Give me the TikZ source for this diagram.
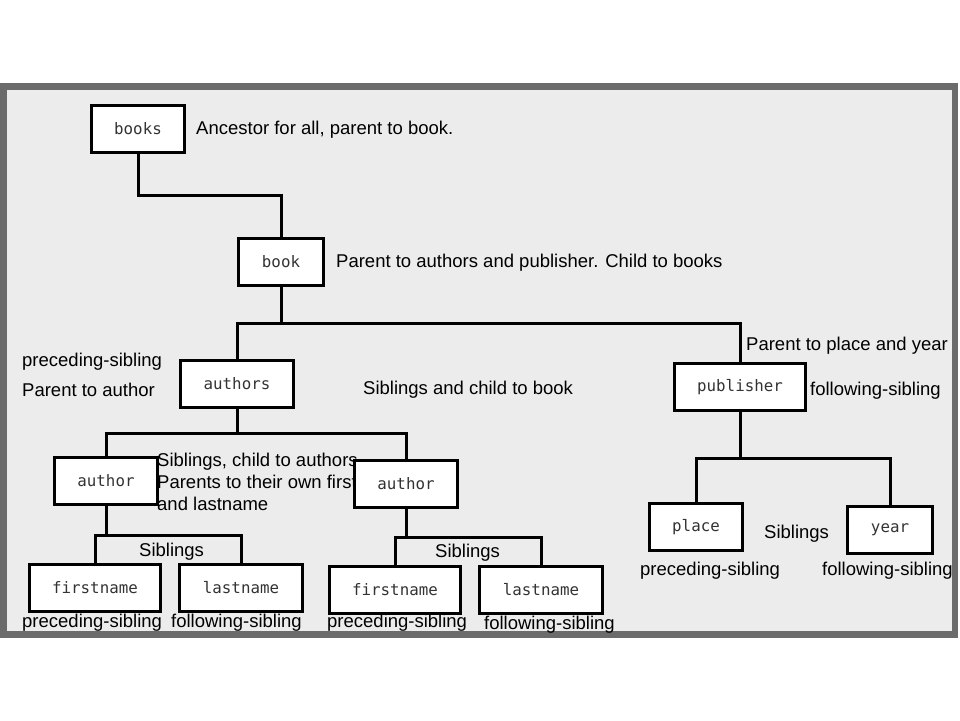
\documentclass[tikz,border=0pt]{standalone}
\usepackage{fontspec}
\setmainfont{Liberation Sans}
\newfontfamily\tagfont{DejaVu Sans Mono}
\usetikzlibrary{positioning}
\definecolor{framegray}{HTML}{6B6B6B}
\definecolor{framefill}{HTML}{ECECEC}
\definecolor{tagtext}{HTML}{333333}
\tikzstyle{tag} = [draw=black, line width=3pt, fill=white, inner xsep=23pt, minimum height=47pt, font=\tagfont\fontsize{15.8}{18}\selectfont, text=tagtext]
\tikzstyle{note} = [anchor=west, inner sep=0pt, align=left, yshift=-2pt, font=\fontsize{18.5}{22}\selectfont]
\tikzstyle{link} = [line width=3pt]

\begin{document}
\begin{tikzpicture}[x=1pt, y=-1pt]
	\useasboundingbox (0,0) rectangle (960,720);
	\draw[line width=6.5pt, draw=framegray, fill=framefill] (3.5,86.5) rectangle (955,634.5);

	\node[note] (n1) at (196,128) {Ancestor for all, parent to book.};
	\node[note] (n2) at (336,261) {Parent to authors and publisher. Child to books};
	\node[note] (n3) at (22,360) {preceding-sibling};
	\node[note] (n4) at (22,388) {Parent to author};
	\node[note] (n5) at (363,388) {Siblings and child to book};
	\node[note] (n6) at (746,344) {Parent to place and year};
	\node[note] (n7) at (810,389) {following-sibling};
	\node[note] (n8) at (157,480) {Siblings, child to authors\\Parents to their own first\\and lastname};
	\node[note] (n9) at (139,550) {Siblings};
	\node[note] (n10) at (435,551) {Siblings};
	\node[note] (n11) at (764,532) {Siblings};
	\node[note] (n12) at (22,621) {preceding-sibling};
	\node[note] (n13) at (171,621) {following-sibling};
	\node[note] (n14) at (327,621) {preceding-sibling};
	\node[note] (n15) at (484,623) {following-sibling};
	\node[note] (n16) at (640,569) {preceding-sibling};
	\node[note] (n17) at (822,569) {following-sibling};

	\node[tag] (books) at (138,129) {books};
	\node[tag] (book) at (281,262) {book};
	\node[tag] (authors) at (237,384) {authors};
	\node[tag] (publisher) at (740,387) {publisher};
	\node[tag] (authorA) at (106,481) {author};
	\node[tag] (authorB) at (406,484) {author};
	\node[tag] (firstA) at (95,588) {firstname};
	\node[tag] (lastA) at (241,588) {lastname};
	\node[tag] (firstB) at (395,590) {firstname};
	\node[tag] (lastB) at (541,590) {lastname};
	\node[tag] (place) at (696,527) {place};
	\node[tag] (year) at (890,530) {year};

	\draw[link] (books.south) -- ++(0,41) -| (book.north);
	\draw[link] (book.south) -- ++(0,36) coordinate (bk);
	\draw[link] (authors.north) |- (bk) -| (publisher.north);
	\draw[link] (authors.south) -- ++(0,24) coordinate (au);
	\draw[link] (authorA.north) |- (au) -| (authorB.north);
	\draw[link] (authorA.south) -- ++(0,29) coordinate (aa);
	\draw[link] (firstA.north) |- (aa) -| (lastA.north);
	\draw[link] (authorB.south) -- ++(0,28) coordinate (ab);
	\draw[link] (firstB.north) |- (ab) -| (lastB.north);
	\draw[link] (publisher.south) -- ++(0,46) coordinate (pb);
	\draw[link] (place.north) |- (pb) -| (year.north);
\end{tikzpicture}
\end{document}
